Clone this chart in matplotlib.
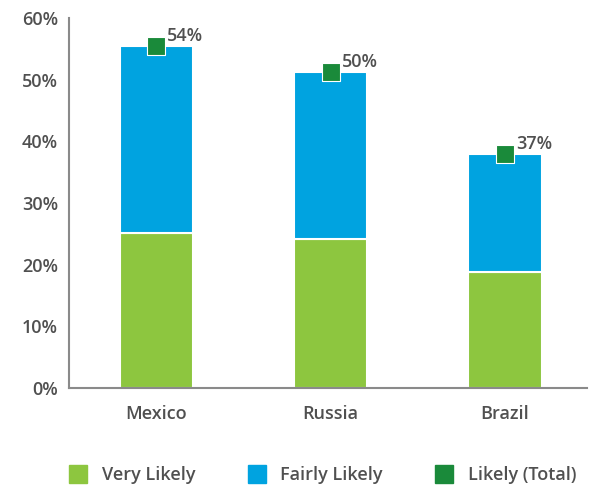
import matplotlib.pyplot as plt
import numpy as np
from matplotlib.patches import Patch

# data (percent)
countries = ['Mexico', 'Russia', 'Brazil']
very_likely = [25.2, 24.2, 18.8]
fairly_likely = [30.2, 27.0, 19.1]
total_labels = ['54%', '50%', '37%']
legend_labels = ['Very Likely', 'Fairly Likely', 'Likely (Total)']

c_very = '#8dc63f'
c_fairly = '#00a3e0'
c_total = '#1a8a3a'
c_text = '#505050'

plt.rcParams['font.family'] = ['Open Sans', 'DejaVu Sans']
plt.rcParams['font.weight'] = 'semibold'

fig = plt.figure(figsize=(5.9, 4.88), dpi=100)
ax = fig.add_axes([0.117, 0.205, 0.878, 0.758])

x = np.arange(len(countries))
very = np.array(very_likely)
fairly = np.array(fairly_likely)
total = very + fairly

ax.bar(x, very, width=0.42, color=c_very, edgecolor='white', linewidth=1.5)
ax.bar(x, fairly, width=0.42, bottom=very, color=c_fairly, edgecolor='white', linewidth=1.5)
ax.scatter(x, total, marker='s', s=160, color=c_total, edgecolors='white', linewidths=0.8, zorder=3)

for xi, t, lab in zip(x, total, total_labels):
    ax.annotate(lab, (xi, t), xytext=(8, 1), textcoords='offset points',
                fontsize=13, color=c_text, va='bottom', ha='left')

ax.set_xlim(-0.5, 2.47)
ax.set_ylim(0, 60)
ax.set_yticks(np.arange(0, 61, 10))
ax.set_yticklabels(['%d%%' % v for v in range(0, 61, 10)])
ax.set_xticks(x)
ax.set_xticklabels(countries)
ax.tick_params(length=0, labelsize=13, colors=c_text)
ax.tick_params(axis='y', pad=8)
ax.tick_params(axis='x', pad=12)

for s in ['top', 'right']:
    ax.spines[s].set_visible(False)
for s in ['left', 'bottom']:
    ax.spines[s].set_color('#8a8a8a')
    ax.spines[s].set_linewidth(1.5)

# legend
handles = [Patch(color=c_very), Patch(color=c_fairly), Patch(color=c_total)]
fig.legend(handles, legend_labels,
           loc='center', bbox_to_anchor=(0.547, 0.027), ncol=3, frameon=False,
           fontsize=13, handlelength=1.0, handleheight=1.1, handletextpad=0.8,
           columnspacing=2.9, labelcolor=c_text)

plt.savefig('out.png', dpi=100)
